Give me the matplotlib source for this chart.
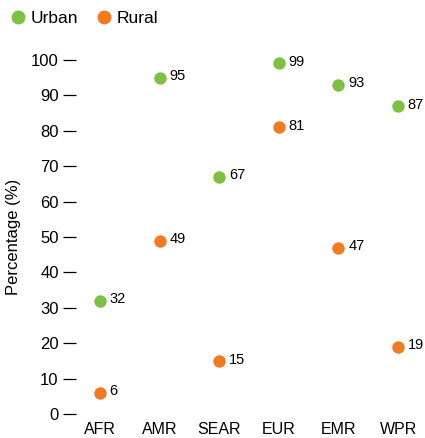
import matplotlib
matplotlib.use('Agg')
import matplotlib.pyplot as plt
from matplotlib.lines import Line2D

regions = ['AFR', 'AMR', 'SEAR', 'EUR', 'EMR', 'WPR']
urban = [32, 95, 67, 99, 93, 87]
rural = [6, 49, 15, 81, 47, 19]
yticks = [0, 10, 20, 30, 40, 50, 60, 70, 80, 90, 100]

GREEN = '#7cc142'
ORANGE = '#f47a21'

plt.rcParams['font.family'] = ['Liberation Sans', 'DejaVu Sans']

fig = plt.figure(figsize=(4.25, 4.38), dpi=100)
ax = fig.add_axes([76 / 425, (438 - 418) / 438, 346 / 425, 362 / 438])

xs = list(range(len(regions)))
ax.scatter(xs, urban, s=80, color=GREEN, zorder=3, linewidths=0)
ax.scatter(xs, rural, s=80, color=ORANGE, zorder=3, linewidths=0)
for x, u, r in zip(xs, urban, rural):
    ax.annotate(str(u), (x, u), xytext=(7, 1), textcoords='offset points',
                va='center', ha='left', fontsize=10.5)
    ax.annotate(str(r), (x, r), xytext=(7, 1), textcoords='offset points',
                va='center', ha='left', fontsize=10.5)

ax.set_xlim(-0.4, 5.4)
ax.set_ylim(-1.1, 101.1)
ax.set_xticks(xs)
ax.set_xticklabels(regions, fontsize=11.5)
ax.set_yticks(yticks)
ax.set_yticklabels([str(t) for t in yticks], fontsize=12)
ax.tick_params(axis='x', length=0, pad=3)
ax.tick_params(axis='y', length=9.5, width=0.9, pad=3, direction='out')
for s in ax.spines.values():
    s.set_visible(False)
ax.set_ylabel('Percentage (%)', fontsize=12, labelpad=7)

handles = [
    Line2D([0], [0], marker='o', linewidth=0, markersize=9, color=GREEN,
           label='Urban'),
    Line2D([0], [0], marker='o', linewidth=0, markersize=9, color=ORANGE,
           label='Rural'),
]
fig.legend(handles=handles, loc='upper left', bbox_to_anchor=(-0.012, 1.005),
           ncol=2, frameon=False, fontsize=12.5, handletextpad=0.1,
           columnspacing=0.9, borderaxespad=0.35, handlelength=1.2)

fig.savefig('out.png', dpi=100)
